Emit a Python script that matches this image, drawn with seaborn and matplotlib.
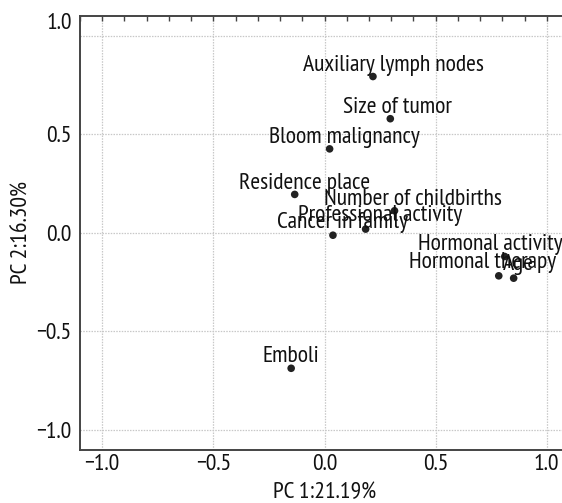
import matplotlib
matplotlib.use("Agg")
import matplotlib.pyplot as plt
import matplotlib.transforms as mtransforms
from matplotlib.ticker import MultipleLocator
import seaborn as sns
import pandas as pd

# ---- data ----
variables = ["Auxiliary lymph nodes", "Size of tumor", "Bloom malignancy",
             "Residence place", "Number of childbirths", "Professional activity",
             "Cancer in family", "Hormonal activity", "Hormonal therapy",
             "Age", "Emboli"]
pc1 = [0.218, 0.296, 0.023, -0.134, 0.315, 0.185, 0.038, 0.811, 0.784, 0.851, -0.150]
pc2 = [0.793, 0.579, 0.426, 0.195, 0.112, 0.019, -0.012, -0.120, -0.218, -0.230, -0.687]
x_label = "PC 1:21.19%"
y_label = "PC 2:16.30%"
ticks = [-1.0, -0.5, 0.0, 0.5, 1.0]

# label offsets (pixels: dx, dy upward) - styling only
label_dx = [20, 7, 14.5, 10, 18, 15, 10, -14.5, -16.5, 4.5, 0]
label_dy = [6, 5.7, 6.3, 5.4, 6, 8.6, 7, 6.7, 7.7, 8, 6.6]

df = pd.DataFrame({"var": variables, "PC1": pc1, "PC2": pc2})

sns.set_style("white")
FONT = ["PT Sans Narrow", "Fira Sans Condensed", "Archivo Narrow", "DejaVu Sans"]
plt.rcParams["font.family"] = FONT
FS = 17

DPI = 100
fig = plt.figure(figsize=(5.62, 5.03), dpi=DPI)
ax = fig.add_axes([80 / 562, 1 - 449.7 / 503, (569 - 80) / 562, (449.7 - 16) / 503])

sns.scatterplot(data=df, x="PC1", y="PC2", ax=ax, color="#222222", s=30,
                edgecolor="none", zorder=3, legend=False)

px2pt = 72 / DPI
for name, x, y, dx, dy in zip(variables, pc1, pc2, label_dx, label_dy):
    ax.annotate(name, (x, y), xytext=(dx * px2pt, dy * px2pt),
                textcoords="offset points", ha="center", va="baseline",
                fontsize=FS, color="#111111", zorder=4)

ax.set_xlim(-1.1, 1.1)
ax.set_ylim(-1.1, 1.1)
ax.set_xticks(ticks)
ax.set_yticks(ticks)
ax.xaxis.set_minor_locator(MultipleLocator(0.1))
ax.yaxis.set_minor_locator(MultipleLocator(0.1))
ax.set_xticklabels([f"{t:.1f}".replace("-", "\u2212") for t in ticks])
ax.set_yticklabels([f"{t:.1f}".replace("-", "\u2212") for t in ticks])
ax.tick_params(which="both", direction="in", length=3.5, width=1, color="#444444",
               top=True, right=False, labelsize=FS, labelcolor="#111111")
ax.tick_params(axis="x", pad=3)
ax.tick_params(axis="y", pad=6)
ax.grid(True, which="major", color="#c8c8c8", linestyle=(0, (1.2, 1)), linewidth=0.9)
ax.set_axisbelow(True)
for side in ["left", "bottom", "top", "right"]:
    ax.spines[side].set_color("#444444")
    ax.spines[side].set_linewidth(1.4)

ax.set_xlabel(x_label, fontsize=FS, color="#111111", labelpad=5)
ax.set_ylabel(y_label, fontsize=FS, color="#111111", labelpad=3)

# top y tick label sits higher in the reference
top_lbl = ax.get_yticklabels()[-1]
top_lbl.set_transform(top_lbl.get_transform() +
                      mtransforms.ScaledTranslation(0, 15 / DPI, fig.dpi_scale_trans))

fig.savefig("out.png", dpi=DPI)
